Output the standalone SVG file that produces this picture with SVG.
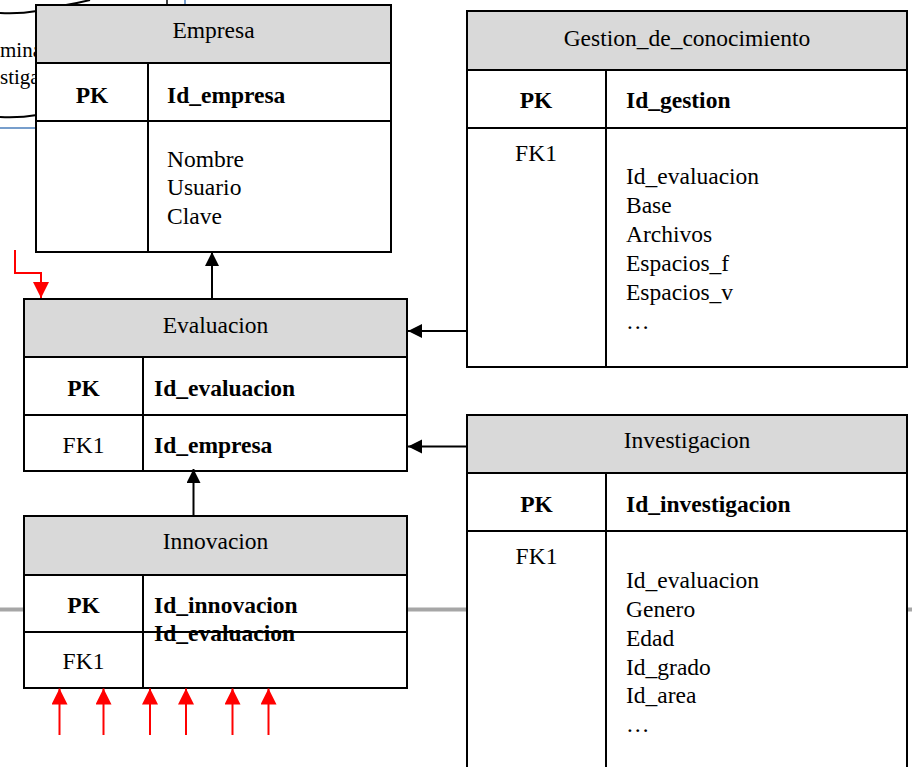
<svg xmlns="http://www.w3.org/2000/svg" width="912" height="767" viewBox="0 0 912 767">
<style>
.box{fill:#fff;stroke:#000;stroke-width:2}
.hdr{fill:#d9d9d9;stroke:#000;stroke-width:2}
.ln{stroke:#000;stroke-width:2;fill:none}
text{font-family:"Liberation Serif","Times New Roman",serif;font-size:23.5px;fill:#000}
.b{font-weight:bold}
.c{text-anchor:middle}
.con{stroke:#000;stroke-width:2;fill:none}
.red{stroke:#f00;stroke-width:2;fill:none}
.frag{font-size:21px}
</style>
<defs>
<marker id="ah" markerUnits="userSpaceOnUse" markerWidth="15" markerHeight="15" refX="14" refY="7" orient="auto">
<path d="M0,0 L14,7 L0,14 z" fill="#000"/>
</marker>
<marker id="rh" markerUnits="userSpaceOnUse" markerWidth="17" markerHeight="17" refX="16" refY="8" orient="auto">
<path d="M0,0 L16,8 L0,16 z" fill="#f00"/>
</marker>
</defs>

<g id="background">
<line x1="0" y1="609.5" x2="912" y2="609.5" stroke="#a6a6a6" stroke-width="4"/>
<path d="M0,13 Q20,14 37,11" class="ln"/>
<path d="M0,117 Q20,118 37,115" class="ln"/>
<path d="M66,5 Q78,3 90,0" class="ln"/>
<line x1="167" y1="0" x2="167" y2="5" stroke="#000" stroke-width="1.5"/>
<line x1="185" y1="0" x2="185" y2="5" stroke="#4a7ebb" stroke-width="1.5"/>
<line x1="0" y1="128" x2="36" y2="128" stroke="#4a7ebb" stroke-width="1.5"/>
<text x="0" y="57" class="frag">mina</text>
<text x="0" y="84" class="frag">stiga</text>
</g>

<g id="empresa">
<rect x="36" y="5" width="355" height="247" class="box"/>
<rect x="36" y="5" width="355" height="58" class="hdr"/>
<line x1="36" y1="121" x2="391" y2="121" class="ln"/>
<line x1="148" y1="63" x2="148" y2="252" class="ln"/>
<text x="213.5" y="38" class="c">Empresa</text>
<text x="92" y="103" class="c b">PK</text>
<text x="167" y="103" class="b">Id_empresa</text>
<text x="167" y="167">Nombre</text>
<text x="167" y="195">Usuario</text>
<text x="167" y="224">Clave</text>
</g>

<g id="gestion">
<rect x="467" y="11" width="440" height="356" class="box"/>
<rect x="467" y="11" width="440" height="59" class="hdr"/>
<line x1="467" y1="128" x2="907" y2="128" class="ln"/>
<line x1="606" y1="70" x2="606" y2="367" class="ln"/>
<text x="687" y="46" class="c">Gestion_de_conocimiento</text>
<text x="536" y="108" class="c b">PK</text>
<text x="626" y="108" class="b">Id_gestion</text>
<text x="536" y="161" class="c">FK1</text>
<text x="626" y="184">Id_evaluacion</text>
<text x="626" y="213">Base</text>
<text x="626" y="242">Archivos</text>
<text x="626" y="271">Espacios_f</text>
<text x="626" y="300">Espacios_v</text>
<text x="626" y="329">…</text>
</g>

<g id="evaluacion">
<rect x="24" y="299" width="383" height="172" class="box"/>
<rect x="24" y="299" width="383" height="58" class="hdr"/>
<line x1="24" y1="415" x2="407" y2="415" class="ln"/>
<line x1="143" y1="357" x2="143" y2="471" class="ln"/>
<text x="215.5" y="333" class="c">Evaluacion</text>
<text x="83.5" y="396" class="c b">PK</text>
<text x="154" y="396" class="b">Id_evaluacion</text>
<text x="83.5" y="453" class="c">FK1</text>
<text x="154" y="453" class="b">Id_empresa</text>
</g>

<g id="innovacion">
<rect x="24" y="516" width="383" height="172" class="box"/>
<rect x="24" y="516" width="383" height="59" class="hdr"/>
<line x1="24" y1="632" x2="407" y2="632" class="ln"/>
<line x1="143" y1="575" x2="143" y2="688" class="ln"/>
<text x="215.5" y="549" class="c">Innovacion</text>
<text x="83.5" y="613" class="c b">PK</text>
<text x="154" y="613" class="b">Id_innovacion</text>
<text x="154" y="641" class="b">Id_evaluacion</text>
<text x="83.5" y="669" class="c">FK1</text>
</g>

<g id="investigacion">
<rect x="467" y="415" width="440" height="360" class="box"/>
<rect x="467" y="415" width="440" height="58" class="hdr"/>
<line x1="467" y1="531" x2="907" y2="531" class="ln"/>
<line x1="606" y1="473" x2="606" y2="775" class="ln"/>
<text x="687" y="448" class="c">Investigacion</text>
<text x="536.5" y="512" class="c b">PK</text>
<text x="626" y="512" class="b">Id_investigacion</text>
<text x="536.5" y="564" class="c">FK1</text>
<text x="626" y="588">Id_evaluacion</text>
<text x="626" y="617">Genero</text>
<text x="626" y="646">Edad</text>
<text x="626" y="675">Id_grado</text>
<text x="626" y="703">Id_area</text>
<text x="626" y="732">…</text>
</g>

<g id="connectors">
<line x1="212" y1="299" x2="212" y2="252" class="con" marker-end="url(#ah)"/>
<line x1="467" y1="331" x2="408" y2="331" class="con" marker-end="url(#ah)"/>
<line x1="467" y1="446.5" x2="408" y2="446.5" class="con" marker-end="url(#ah)"/>
<line x1="193.5" y1="516" x2="193.5" y2="469" class="con" marker-end="url(#ah)"/>
<polyline points="15,250 15,273 41,273 41,298" class="red" marker-end="url(#rh)"/>
<line x1="59.5" y1="735" x2="59.5" y2="688.5" class="red" marker-end="url(#rh)"/>
<line x1="103.5" y1="735" x2="103.5" y2="688.5" class="red" marker-end="url(#rh)"/>
<line x1="150" y1="735" x2="150" y2="688.5" class="red" marker-end="url(#rh)"/>
<line x1="186" y1="735" x2="186" y2="688.5" class="red" marker-end="url(#rh)"/>
<line x1="232.5" y1="735" x2="232.5" y2="688.5" class="red" marker-end="url(#rh)"/>
<line x1="268.5" y1="735" x2="268.5" y2="688.5" class="red" marker-end="url(#rh)"/>
</g>
</svg>
